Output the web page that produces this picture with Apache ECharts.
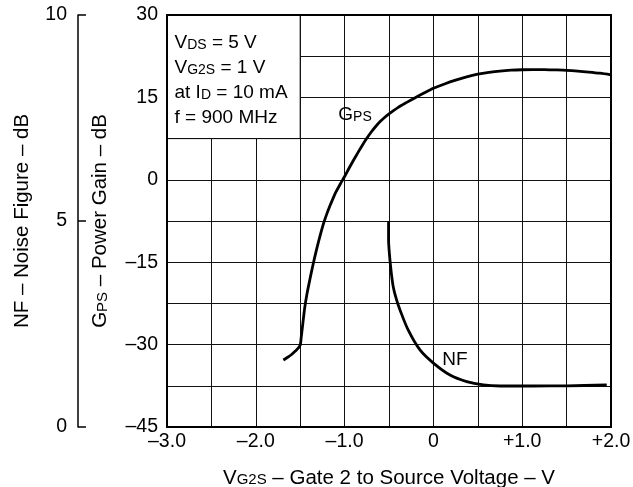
<!DOCTYPE html>
<html>
<head>
<meta charset="utf-8">
<script src="https://cdn.jsdelivr.net/npm/echarts@6/dist/echarts.min.js"></script>
<style>
html,body{margin:0;padding:0;background:#fff;}
#c{width:633px;height:487px;}
</style>
</head>
<body>
<div id="c"></div>
<script>
// ---- data ----
const gpsData = [
  [-1.69, -32.8], [-1.65, -32.4], [-1.60, -31.85], [-1.55, -31.1], [-1.52, -30.6],
  [-1.50, -30.1], [-1.488, -28.6], [-1.475, -26.8], [-1.462, -25.0], [-1.45, -23.4],
  [-1.425, -20.9], [-1.40, -18.85], [-1.375, -16.9], [-1.35, -15.05], [-1.325, -13.3],
  [-1.30, -11.65], [-1.275, -10.1], [-1.25, -8.65], [-1.225, -7.35], [-1.20, -6.2],
  [-1.175, -5.15], [-1.15, -4.15], [-1.125, -3.2], [-1.10, -2.3], [-1.05, -0.8],
  [-1.0, 0.6], [-0.95, 2.1], [-0.9, 3.55], [-0.85, 4.95], [-0.8, 6.3],
  [-0.75, 7.55], [-0.7, 8.7], [-0.65, 9.7], [-0.6, 10.6], [-0.55, 11.35],
  [-0.5, 12.0], [-0.4, 13.15], [-0.3, 14.1], [-0.2, 15.0], [-0.1, 15.85],
  [0.0, 16.65], [0.125, 17.45], [0.25, 18.15], [0.375, 18.75], [0.5, 19.22],
  [0.625, 19.55], [0.75, 19.8], [0.875, 19.95], [1.0, 20.03], [1.125, 20.06],
  [1.25, 20.05], [1.375, 20.0], [1.5, 19.93], [1.625, 19.8], [1.75, 19.62],
  [1.875, 19.4], [2.0, 19.1]
];
const nfData = [
  [-0.505, 5.0], [-0.505, 4.54], [-0.499, 4.30], [-0.489, 4.05], [-0.474, 3.74],
  [-0.452, 3.40], [-0.418, 3.11], [-0.376, 2.84], [-0.283, 2.35], [-0.151, 1.87],
  [0.0, 1.55], [0.187, 1.26], [0.375, 1.10], [0.562, 1.02], [0.75, 0.995],
  [1.122, 0.995], [1.505, 1.0], [1.952, 1.02]
];
const xTickValues = [-3, -2, -1, 0, 1, 2];
const xTickLabels = ['–3.0', '–2.0', '–1.0', '0', '+1.0', '+2.0'];
const gpsTickValues = [-45, -30, -15, 0, 15, 30];
const gpsTickLabels = ['–45', '–30', '–15', '0', '15', '30'];
const nfTickValues = [0, 5, 10];
const nfTickLabels = ['0', '5', '10'];
const boxRange = [[-3, 30], [-1.5, 7.5]];
const gpsLabelPos = [-0.883, 11.8];
const nfLabelPos = [0.243, 1.63];

// ---- chart ----
const FONT = '"Liberation Sans", Arial, sans-serif';
const TICK_FS = 19.5;
const TITLE_FS = 20.5;
function lookup(values, labels, v) {
  for (let i = 0; i < values.length; i++) {
    if (Math.abs(values[i] - v) < 1e-9) return labels[i];
  }
  return '';
}
// main text + baseline-aligned small-caps "subscript"
function richStyles(fs, lh) {
  const f = Math.round(fs * 0.72);
  const p = Math.max(0, lh / 2 - f / 2 - 0.35 * (fs - f));
  return {
    m: { fontSize: fs, fontFamily: FONT, color: '#000', lineHeight: lh },
    s: { fontSize: f, fontFamily: FONT, color: '#000', verticalAlign: 'bottom', padding: [0, 0, p, 0] }
  };
}

const chart = echarts.init(document.getElementById('c'), null, { renderer: 'canvas' });
chart.setOption({
  animation: false,
  backgroundColor: '#fff',
  grid: {
    left: 167, right: 22, top: 15, bottom: 60,
    show: true, z: 5, borderColor: '#000', borderWidth: 2, backgroundColor: 'transparent',
    containLabel: false, outerBoundsMode: 'none'
  },
  xAxis: {
    type: 'value', min: -3, max: 2, interval: 0.5,
    axisLine: { show: false }, axisTick: { show: false },
    splitLine: { show: true, lineStyle: { color: '#111', width: 1 } },
    axisLabel: {
      margin: 5, color: '#000', fontSize: TICK_FS, fontFamily: FONT,
      showMinLabel: true, showMaxLabel: true, hideOverlap: false,
      formatter: v => lookup(xTickValues, xTickLabels, v)
    },
    name: '{m|V}{s|G2S}{m| – Gate 2 to Source Voltage – V}',
    nameLocation: 'middle', nameGap: 41,
    nameTextStyle: { rich: richStyles(TITLE_FS, TITLE_FS) }
  },
  yAxis: [
    {
      type: 'value', min: -45, max: 30, interval: 7.5, position: 'left',
      axisLine: { show: false }, axisTick: { show: false },
      splitLine: { show: true, lineStyle: { color: '#111', width: 1 } },
      axisLabel: {
        margin: 9, color: '#000', fontSize: TICK_FS, fontFamily: FONT,
        showMinLabel: true, showMaxLabel: true, hideOverlap: false,
        formatter: v => lookup(gpsTickValues, gpsTickLabels, v)
      },
      name: '{m|G}{s|PS}{m| – Power Gain – dB}',
      nameLocation: 'middle', nameGap: 56,
      nameTextStyle: { rich: richStyles(TITLE_FS, TITLE_FS) }
    },
    {
      type: 'value', min: 0, max: 10, interval: 5, position: 'left', offset: 89,
      axisLine: { show: true, onZero: false, lineStyle: { color: '#000', width: 1.5 } },
      axisTick: { show: true, inside: true, length: 8, lineStyle: { color: '#000', width: 1.5 } },
      splitLine: { show: false },
      axisLabel: {
        margin: 11, color: '#000', fontSize: TICK_FS, fontFamily: FONT,
        showMinLabel: true, showMaxLabel: true,
        formatter: v => lookup(nfTickValues, nfTickLabels, v)
      },
      name: 'NF – Noise Figure – dB',
      nameLocation: 'middle', nameGap: 45,
      nameTextStyle: { fontSize: TITLE_FS, fontFamily: FONT, color: '#000' }
    }
  ],
  series: [
    {
      name: 'GPS', type: 'line', yAxisIndex: 0, data: gpsData,
      showSymbol: false, smooth: 0.3,
      lineStyle: { color: '#000', width: 2.8 },
      markArea: {
        silent: true,
        itemStyle: { color: '#fff', borderColor: '#000', borderWidth: 1 },
        label: {
          show: true, position: 'insideTopLeft', distance: 0, padding: [16, 0, 0, 8],
          formatter: '{m|V}{s|DS}{m| = 5 V}\n{m|V}{s|G2S}{m| = 1 V}\n{m|at I}{s|D}{m| = 10 mA}\n{m|f = 900 MHz}',
          rich: richStyles(19, 25)
        },
        data: [[{ coord: boxRange[0] }, { coord: boxRange[1] }]]
      },
      markPoint: {
        silent: true, symbol: 'circle', symbolSize: 0,
        label: {
          show: true, position: 'inside',
          formatter: '{m|G}{s|PS}',
          rich: richStyles(19, 19)
        },
        data: [{ coord: gpsLabelPos }]
      }
    },
    {
      name: 'NF', type: 'line', yAxisIndex: 1, data: nfData,
      showSymbol: false, smooth: 0.3,
      lineStyle: { color: '#000', width: 2.8 },
      markPoint: {
        silent: true, symbol: 'circle', symbolSize: 0,
        label: { show: true, position: 'inside', formatter: 'NF', fontSize: 19, fontFamily: FONT, color: '#000' },
        data: [{ coord: nfLabelPos }]
      }
    }
  ]
});
</script>
</body>
</html>
